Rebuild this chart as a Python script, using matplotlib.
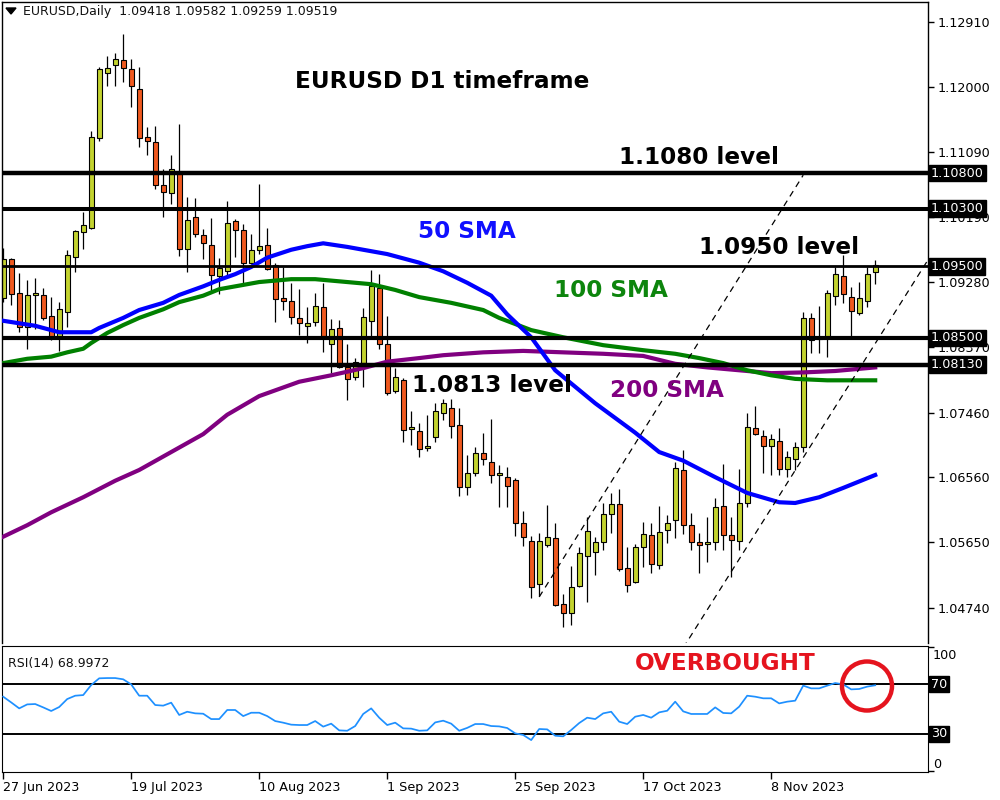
import matplotlib
matplotlib.use("Agg")
import matplotlib.pyplot as plt
from matplotlib.patches import Ellipse, Polygon
import numpy as np
import pandas as pd

# ---------------- data ----------------
symbol = "EURUSD"
timeframe = "Daily"
first_date = "2023-06-27"

opens = [1.0906, 1.0960, 1.0913, 1.0865, 1.0910, 1.0910, 1.0881, 1.0851, 1.0886, 1.0963,
         1.0998, 1.1003, 1.1129, 1.1219, 1.1231, 1.1238, 1.1225, 1.1197, 1.1130, 1.1123,
         1.1063, 1.1052, 1.1080, 1.0974, 1.1019, 1.0994, 1.0980, 1.0936, 1.0943, 1.1013,
         1.1001, 1.0955, 1.0973, 1.0980, 1.0952, 1.0906, 1.0902, 1.0878, 1.0867, 1.0872,
         1.0893, 1.0842, 1.0864, 1.0810, 1.0796, 1.0815, 1.0874, 1.0920, 1.0842, 1.0776,
         1.0791, 1.0723, 1.0720, 1.0697, 1.0712, 1.0745, 1.0752, 1.0729, 1.0642, 1.0662,
         1.0690, 1.0677, 1.0659, 1.0656, 1.0652, 1.0592, 1.0567, 1.0507, 1.0561, 1.0571,
         1.0479, 1.0467, 1.0504, 1.0546, 1.0552, 1.0566, 1.0605, 1.0619, 1.0529, 1.0510,
         1.0559, 1.0575, 1.0534, 1.0582, 1.0596, 1.0666, 1.0589, 1.0566, 1.0563, 1.0565,
         1.0616, 1.0575, 1.0567, 1.0620, 1.0725, 1.0713, 1.0699, 1.0706, 1.0667, 1.0681,
         1.0698, 1.0878, 1.0849, 1.0850, 1.0909, 1.0936, 1.0907, 1.0885, 1.0902, 1.09418]

highs = [1.0975, 1.0962, 1.0941, 1.0931, 1.0934, 1.0920, 1.0907, 1.0900, 1.0973, 1.1001,
         1.1026, 1.1139, 1.1228, 1.1243, 1.1247, 1.1274, 1.1239, 1.1228, 1.1144, 1.1146,
         1.1086, 1.1105, 1.1148, 1.1047, 1.1045, 1.1002, 1.1017, 1.0962, 1.1041, 1.1016,
         1.1009, 1.0995, 1.1065, 1.1003, 1.0955, 1.0949, 1.0927, 1.0918, 1.0893, 1.0913,
         1.0927, 1.0876, 1.0875, 1.0842, 1.0822, 1.0892, 1.0945, 1.0939, 1.0881, 1.0808,
         1.0794, 1.0748, 1.0732, 1.0743, 1.0759, 1.0765, 1.0765, 1.0752, 1.0687, 1.0698,
         1.0718, 1.0737, 1.0673, 1.0670, 1.0655, 1.0609, 1.0574, 1.0578, 1.0617, 1.0592,
         1.0493, 1.0532, 1.0559, 1.0600, 1.0573, 1.0620, 1.0634, 1.0640, 1.0559, 1.0563,
         1.0593, 1.0592, 1.0616, 1.0603, 1.0677, 1.0694, 1.0606, 1.0578, 1.0601, 1.0627,
         1.0674, 1.0600, 1.0667, 1.0745, 1.0755, 1.0722, 1.0716, 1.0725, 1.0692, 1.0705,
         1.0886, 1.0885, 1.0895, 1.0917, 1.0949, 1.0966, 1.0921, 1.0928, 1.0949, 1.09582]

lows = [1.0900, 1.0896, 1.0858, 1.0835, 1.0863, 1.0875, 1.0847, 1.0832, 1.0865, 1.0942,
        1.0974, 1.1002, 1.1125, 1.1201, 1.1201, 1.1207, 1.1172, 1.1116, 1.1105, 1.1058,
        1.1019, 1.1037, 1.0964, 1.0942, 1.0991, 1.0960, 1.0914, 1.0911, 1.0935, 1.0963,
        1.0927, 1.0953, 1.0967, 1.0945, 1.0872, 1.0889, 1.0870, 1.0854, 1.0843, 1.0867,
        1.0830, 1.0801, 1.0808, 1.0764, 1.0791, 1.0782, 1.0851, 1.0835, 1.0771, 1.0773,
        1.0705, 1.0701, 1.0684, 1.0692, 1.0705, 1.0736, 1.0711, 1.0630, 1.0631, 1.0658,
        1.0673, 1.0648, 1.0614, 1.0614, 1.0574, 1.0560, 1.0488, 1.0490, 1.0559, 1.0476,
        1.0447, 1.0450, 1.0503, 1.0482, 1.0520, 1.0554, 1.0578, 1.0525, 1.0496, 1.0508,
        1.0531, 1.0522, 1.0528, 1.0564, 1.0571, 1.0577, 1.0554, 1.0522, 1.0538, 1.0555,
        1.0555, 1.0517, 1.0555, 1.0614, 1.0715, 1.0662, 1.0659, 1.0659, 1.0656, 1.0666,
        1.0691, 1.0829, 1.0829, 1.0824, 1.0896, 1.0899, 1.0851, 1.0882, 1.0893, 1.09259]

closes = [1.0960, 1.0911, 1.0865, 1.0910, 1.0913, 1.0878, 1.0851, 1.0890, 1.0966, 1.0999,
          1.1008, 1.1130, 1.1225, 1.1226, 1.1239, 1.1226, 1.1201, 1.1129, 1.1125, 1.1063,
          1.1054, 1.1086, 1.0974, 1.1015, 1.0995, 1.0982, 1.0938, 1.0948, 1.1010, 1.1001,
          1.0955, 1.0973, 1.0978, 1.0946, 1.0904, 1.0902, 1.0879, 1.0871, 1.0871, 1.0895,
          1.0853, 1.0863, 1.0810, 1.0793, 1.0817, 1.0879, 1.0922, 1.0842, 1.0773, 1.0796,
          1.0722, 1.0726, 1.0695, 1.0699, 1.0748, 1.0759, 1.0727, 1.0642, 1.0662, 1.0690,
          1.0681, 1.0659, 1.0662, 1.0644, 1.0592, 1.0573, 1.0503, 1.0567, 1.0573, 1.0478,
          1.0467, 1.0503, 1.0550, 1.0581, 1.0566, 1.0605, 1.0619, 1.0528, 1.0506, 1.0559,
          1.0577, 1.0535, 1.0580, 1.0592, 1.0669, 1.0589, 1.0566, 1.0561, 1.0566, 1.0614,
          1.0575, 1.0568, 1.0620, 1.0726, 1.0716, 1.0699, 1.0709, 1.0667, 1.0684, 1.0698,
          1.0878, 1.0847, 1.0851, 1.0913, 1.0939, 1.0911, 1.0888, 1.0906, 1.0939, 1.09519]

sma50_idx = [0, 4, 7, 11, 12, 15, 17, 20, 22, 25, 27, 29, 31, 33, 36, 38, 40, 43, 46, 48,
             52, 55, 58, 61, 63, 66, 69, 74, 79, 82, 85, 89, 93, 97, 99, 102, 105, 109]
sma50_val = [1.0874, 1.0867, 1.0858, 1.0858, 1.0864, 1.0878, 1.0889, 1.0899, 1.0910, 1.0922,
             1.0931, 1.0939, 1.0949, 1.0962, 1.0973, 1.0978, 1.0982, 1.0977, 1.0971, 1.0967,
             1.0955, 1.0943, 1.0927, 1.0909, 1.0883, 1.0851, 1.0805, 1.0759, 1.0718, 1.0691,
             1.0679, 1.0656, 1.0634, 1.0621, 1.0620, 1.0628, 1.0641, 1.0659]

sma100_idx = [0, 3, 6, 8, 10, 11, 13, 15, 17, 20, 22, 25, 27, 30, 32, 36, 39, 42, 46, 49,
              52, 56, 60, 62, 66, 70, 75, 80, 84, 87, 90, 93, 96, 99, 103, 109]
sma100_val = [1.0815, 1.0821, 1.0824, 1.0830, 1.0835, 1.0843, 1.0857, 1.0868, 1.0878, 1.0890,
              1.0900, 1.0909, 1.0918, 1.0924, 1.0928, 1.0932, 1.0932, 1.0929, 1.0925, 1.0917,
              1.0907, 1.0899, 1.0889, 1.0878, 1.0861, 1.0851, 1.0840, 1.0833, 1.0828, 1.0822,
              1.0815, 1.0805, 1.0798, 1.0793, 1.0791, 1.0791]

sma200_idx = [0, 3, 6, 10, 14, 17, 21, 25, 28, 32, 37, 41, 45, 48, 52, 55, 60, 65, 70, 75,
              80, 84, 88, 92, 96, 100, 104, 109]
sma200_val = [1.0573, 1.0589, 1.0607, 1.0628, 1.0651, 1.0666, 1.0691, 1.0716, 1.0743, 1.0769,
              1.0789, 1.0798, 1.0808, 1.0817, 1.0822, 1.0826, 1.0830, 1.0832, 1.0830, 1.0828,
              1.0825, 1.0814, 1.0809, 1.0805, 1.0801, 1.0802, 1.0804, 1.0809]

rsi = [59.8, 55.2, 50.4, 53.6, 53.9, 51.2, 48.3, 51.5, 57.9, 60.6,
       61.1, 69.2, 74.6, 74.8, 74.8, 73.8, 69.7, 60.6, 60.6, 53.1,
       52.6, 55.0, 45.1, 47.7, 46.4, 46.1, 41.8, 41.8, 49.1, 49.1,
       44.2, 46.9, 46.9, 44.2, 40.2, 38.9, 37.3, 37.0, 37.0, 40.2,
       35.7, 38.1, 32.7, 32.4, 36.2, 45.9, 50.4, 42.9, 37.0, 38.9,
       34.3, 34.1, 32.4, 32.7, 39.1, 40.5, 38.1, 32.4, 34.7, 37.8,
       37.8, 36.2, 35.9, 34.6, 30.3, 29.0, 24.9, 33.8, 33.5, 28.4,
       27.9, 33.0, 38.6, 42.9, 41.8, 46.4, 47.7, 39.7, 37.8, 43.7,
       45.1, 42.9, 47.2, 48.5, 55.8, 48.0, 45.9, 45.9, 45.9, 51.2,
       46.7, 46.4, 51.8, 60.6, 59.8, 58.5, 58.5, 54.4, 55.8, 56.6,
       68.7, 66.5, 66.5, 68.7, 70.8, 69.7, 65.7, 66.0, 67.9, 68.9972]

levels = [1.1080, 1.1030, 1.0950, 1.0850, 1.0813]
level_widths = [3.2, 2.9, 2.0, 3.0, 3.2]
price_ticks = [1.12910, 1.12000, 1.11090, 1.10190, 1.09280, 1.08370,
               1.07460, 1.06560, 1.05650, 1.04740]
rsi_levels = [70, 30]
date_tick_labels = ["27 Jun 2023", "19 Jul 2023", "10 Aug 2023", "1 Sep 2023",
                    "25 Sep 2023", "17 Oct 2023", "8 Nov 2023"]

chan_upper_x = [67, 100]
chan_upper_y = [1.0489, 1.1077]
chan_lower_x = [85, 116]
chan_lower_y = [1.0418, 1.0966]

# ---------------- styling ----------------
BULL = "#c3d32f"
BEAR = "#f0591f"
C50, C100, C200 = "#0000ff", "#008000", "#800080"
plt.rcParams["font.family"] = ["DejaVu Sans"]

W, H = 1000, 800
def fx(px):
    return px / W
def fy(py):
    return 1 - py / H

fig = plt.figure(figsize=(10, 8), dpi=100)
fig.patch.set_facecolor("white")
ax = fig.add_axes([fx(2), fy(643), fx(928) - fx(2), fy(2) - fy(643)])
rax = fig.add_axes([fx(2), fy(772), fx(928) - fx(2), fy(646) - fy(772)])

n = len(closes)
x = np.arange(n)
o = np.array(opens); c = np.array(closes); h = np.array(highs); l = np.array(lows)
up = c >= o

# candles
ax.vlines(x, l, h, color="black", lw=0.9, zorder=2)
body_bottom = np.minimum(o, c)
body_h = np.maximum(np.abs(c - o), 0.00006)
ax.bar(x, body_h, bottom=body_bottom, width=0.62,
       color=np.where(up, BULL, BEAR), edgecolor="black", linewidth=0.8, zorder=2.5)

# moving averages
ax.plot(sma200_idx, sma200_val, color=C200, lw=3.0, zorder=3)
ax.plot(sma100_idx, sma100_val, color=C100, lw=3.0, zorder=3)
ax.plot(sma50_idx, sma50_val, color=C50, lw=3.0, zorder=3)

# horizontal levels with price boxes
for lv, lw in zip(levels, level_widths):
    ax.axhline(lv, color="black", lw=lw, zorder=4)
    ax.text(1.003, lv, f"{lv:.5f}", transform=ax.get_yaxis_transform(),
            ha="left", va="center", color="white", fontsize=9.2,
            bbox=dict(boxstyle="square,pad=0.15", fc="black", ec="black"),
            clip_on=False, zorder=10)

# trend channel
ax.plot(chan_upper_x, chan_upper_y, color="black", lw=0.9, ls=(0, (5, 4)), zorder=4)
ax.plot(chan_lower_x, chan_lower_y, color="black", lw=0.9, ls=(0, (5, 4)), zorder=4)

ax.set_xlim(-0.15, 115.6)
ax.set_ylim(1.04248, 1.13184)
ax.yaxis.tick_right()
ax.set_yticks(price_ticks)
ax.set_yticklabels([f"{t:.5f}" for t in price_ticks])
ax.tick_params(axis="y", direction="out", length=4, width=1, pad=3, labelsize=9.2)
ax.set_xticks([])
ax.spines["bottom"].set_visible(False)
for s in ["left", "top", "right"]:
    ax.spines[s].set_linewidth(1.0)

# RSI panel
rax.plot(x, rsi, color="#1e90ff", lw=1.25, zorder=3)
for lv in rsi_levels:
    rax.axhline(lv, color="black", lw=1.4, zorder=2)
    rax.text(1.003, lv, f"{lv}", transform=rax.get_yaxis_transform(),
             ha="left", va="center", color="white", fontsize=9.2,
             bbox=dict(boxstyle="square,pad=0.12", fc="black", ec="black"),
             clip_on=False, zorder=10)
rax.text(1.005, 93.3, "100", transform=rax.get_yaxis_transform(), ha="left",
         va="center", fontsize=9.2, clip_on=False)
rax.text(1.005, 5.6, "0", transform=rax.get_yaxis_transform(), ha="left",
         va="center", fontsize=9.2, clip_on=False)
rax.set_ylim(-0.8, 100.6)
rax.set_xlim(-0.15, 115.6)
rax.yaxis.tick_right()
rax.set_yticks([0, 30, 70, 100])
rax.set_yticklabels(["", "", "", ""])
rax.tick_params(axis="y", direction="out", length=4, width=1)

dates = pd.bdate_range(first_date, periods=n)
labels_fmt = [f"{d.day} {d.strftime('%b %Y')}" for d in dates]
tick_pos = [labels_fmt.index(t) for t in date_tick_labels]
rax.set_xticks(tick_pos)
rax.set_xticklabels(date_tick_labels, ha="left")
rax.tick_params(axis="x", direction="out", length=5, width=1, pad=1.5, labelsize=9.2)

rax.text(0.006, 0.86, f"RSI(14) {rsi[-1]:.4f}", transform=rax.transAxes,
         ha="left", va="center", fontsize=9, color="#111111")

# header
fig.add_artist(Polygon([(fx(6), fy(8)), (fx(16), fy(8)), (fx(11), fy(14))],
                       closed=True, transform=fig.transFigure, fc="black", ec="black"))
fig.text(fx(23), fy(12),
         f"{symbol},{timeframe}  {opens[-1]:.5f} {highs[-1]:.5f} {lows[-1]:.5f} {closes[-1]:.5f}",
         ha="left", va="center", fontsize=9, color="#111111")

# annotations
big = dict(fontsize=16.7, fontweight="bold", ha="center", va="center", zorder=20)
fig.text(fx(442), fy(82), "EURUSD D1 timeframe", color="black", **big)
fig.text(fx(699), fy(157), "1.1080 level", color="black", **big)
fig.text(fx(467), fy(232), "50 SMA", color="#1010ff", **big)
fig.text(fx(779), fy(247), "1.0950 level", color="black", **big)
fig.text(fx(611), fy(290), "100 SMA", color="#0d850d", **big)
fig.text(fx(492), fy(386), "1.0813 level", color="black", **big)
fig.text(fx(667), fy(390), "200 SMA", color="#800080", **big)
fig.text(fx(725), fy(663), "OVERBOUGHT", color="#e5141e", **big)

fig.add_artist(Ellipse((fx(867), fy(686)), width=50 / W, height=49 / H,
                       transform=fig.transFigure, fill=False, ec="#e5141e", lw=3.2))

fig.savefig("out.png", dpi=100)
